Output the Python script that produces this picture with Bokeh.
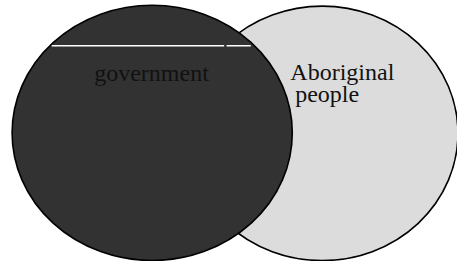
from bokeh.plotting import figure
from bokeh.models import Range1d, ColumnDataSource
from bokeh.core.properties import value
from bokeh.embed import file_html
from bokeh.resources import INLINE

# Venn sets drawn back-to-front
set_names = ["Aboriginal people", "government"]
label_lines = ["government", "Aboriginal", "people"]
fill_colors = ["#dcdcdc", "#323232"]

# geometry in reference-pixel coordinates
cx = [333, 157]
cy = [141, 140.5]
w = [281, 290]
h = [270, 271]

p = figure(width=457, height=261, output_backend="svg", toolbar_location=None,
           x_range=Range1d(0, 473), y_range=Range1d(277, 0),
           min_border=0, outline_line_color=None)
p.axis.visible = False
p.grid.visible = False
p.background_fill_color = "white"
p.border_fill_color = "white"

src = ColumnDataSource(dict(x=cx, y=cy, w=w, h=h, c=fill_colors))
p.ellipse(x="x", y="y", width="w", height="h", source=src,
          fill_color="c", line_color="black", line_width=1.6)

# white rule across the top of the dark set
p.segment(x0=[53, 234], y0=[48, 48], x1=[231.5, 259], y1=[48, 48],
          line_color="white", line_width=1.5)

tx = [97, 300, 305]
ty = [77, 76, 99]
p.text(x=tx, y=ty, text=label_lines, text_font=value("Liberation Serif"),
       text_font_size="24px", text_color="#111111",
       text_baseline="alphabetic", text_align="left")

open("out.html", "w").write(file_html(p, INLINE))
